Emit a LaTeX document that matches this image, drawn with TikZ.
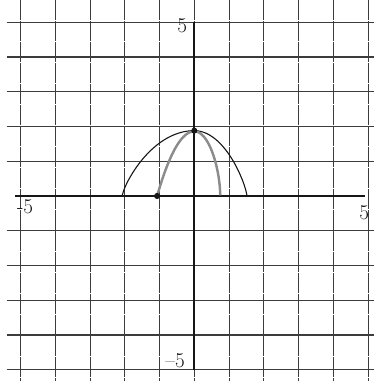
\documentclass[tikz,border=0pt]{standalone}
\usepackage{xcolor}
\usepackage{tikz}
\definecolor{gridline}{HTML}{3C3C3C}
\definecolor{pencil}{HTML}{161616}
\definecolor{softgray}{HTML}{8C8C8C}

\begin{document}
\begin{tikzpicture}[
    hline/.style={gridline, line width=1pt},
    vline/.style={gridline, line width=0.5pt, dash pattern=on 16pt off 1.2pt},
    axis/.style={pencil, line width=1.5pt},
    ticklabel/.style={font=\LARGE, inner sep=0pt, text=pencil},
    widecurve/.style={pencil, line width=0.9pt, samples=40},
    narrowcurve/.style={softgray, line width=2pt, samples=40},
]
\useasboundingbox (-5.591,-5.324) rectangle (5.171,5.640);
% Grid
\foreach \x in {-5,...,5} {
    \draw[vline] (\x, 5.640) -- (\x, -5.324);
}
\foreach \y in {-5,...,-1,1,2,...,5} {
    \draw[hline] (-5.4, \y) -- (5.171, \y);
}
% Axes
\draw[axis] (-5.15, 0) -- (4.9, 0);
\draw[axis] (0, 5) -- (0, -5);
\node[ticklabel] (ytop) at (-0.35, 4.89) {5};
\node[ticklabel] (ybottom) at (-0.55, -4.75) {--5};
\node[ticklabel] (xleft) at (-4.87, -0.32) {-5};
\node[ticklabel] (xright) at (4.89, -0.49) {5};
% Curves
\draw[widecurve] plot[domain=-2.08:0] (\x, {1.88*pow(max(1-(\x/2.08)^2,0.00001),0.8)})
    -- plot[domain=0:1.52] (\x, {1.88*pow(max(1-(\x/1.52)^2,0.00001),0.8)});
\draw[narrowcurve] plot[domain=-1.07:0] (\x, {1.86*(1-(\x/1.07)^2)})
    -- plot[domain=0:0.75] (\x, {1.86*pow(max(1-(\x/0.75)^2,0.00001),0.6)});
\node[circle, fill=pencil, inner sep=0pt, minimum size=5pt] (vertex) at (0,1.88) {};
\node[circle, fill=pencil, inner sep=0pt, minimum size=5pt] (root) at (-1.07,0) {};
\end{tikzpicture}
\end{document}
